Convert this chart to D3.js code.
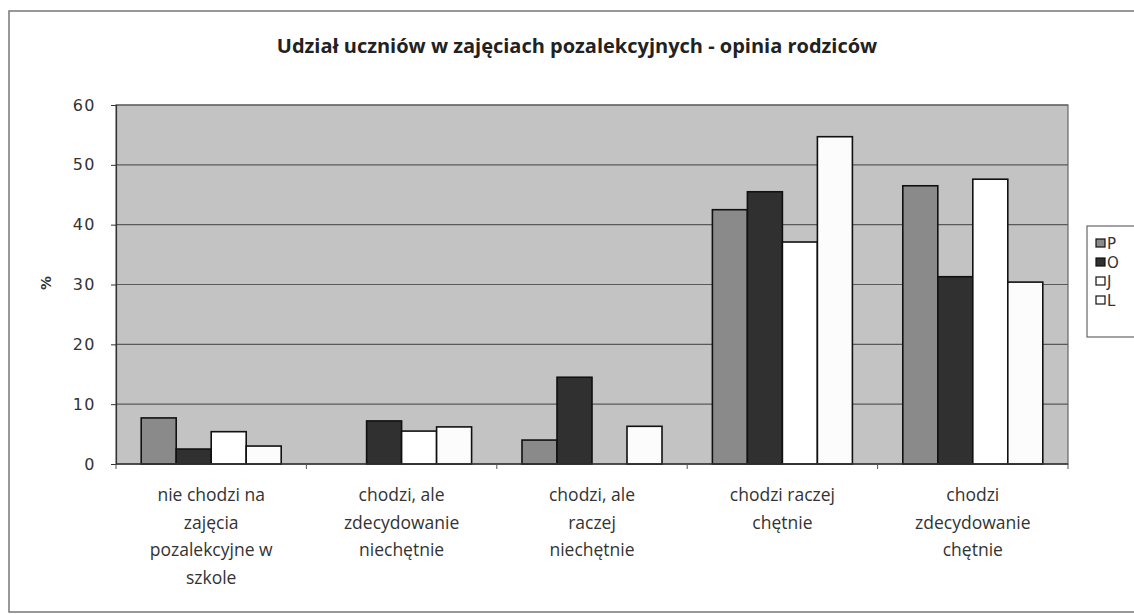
<!DOCTYPE html>
<html>
<head>
<meta charset="utf-8">
<script src="https://cdn.jsdelivr.net/npm/d3@7"></script>
<style>
  body { margin: 0; background: #fff; }
  svg { display: block; }
</style>
</head>
<body>
<div id="chart"></div>
<script>
// dane
const categories = [
    ["nie chodzi na", "zajęcia", "pozalekcyjne w", "szkole"],
    ["chodzi, ale", "zdecydowanie", "niechętnie"],
    ["chodzi, ale", "raczej", "niechętnie"],
    ["chodzi raczej", "chętnie"],
    ["chodzi", "zdecydowanie", "chętnie"]
];
const seriesNames = ["P", "O", "J", "L"];
const valuesP = [7.7, 0, 4.0, 42.5, 46.5];
const valuesO = [2.5, 7.2, 14.5, 45.5, 31.3];
const valuesJ = [5.4, 5.5, 0, 37.1, 47.6];
const valuesL = [3.0, 6.2, 6.3, 54.7, 30.4];
const yTicks = [0, 10, 20, 30, 40, 50, 60];
const title = "Udział uczniów w zajęciach pozalekcyjnych - opinia rodziców";

const seriesValues = [valuesP, valuesO, valuesJ, valuesL];
const colors = ["#8a8a8a", "#303030", "#ffffff", "#fcfcfc"];

const width = 1134, height = 614;
const margin = { left: 116, right: 1068, top: 105, bottom: 464 };

const svg = d3.select("#chart").append("svg")
    .attr("width", width)
    .attr("height", height);

// ramka wykresu
svg.append("rect")
    .attr("x", 9).attr("y", 11)
    .attr("width", 1140).attr("height", 601)
    .attr("fill", "#fff")
    .attr("stroke", "#777")
    .attr("stroke-width", 1.5);

// tytuł
svg.append("text")
    .attr("x", 577).attr("y", 53)
    .attr("text-anchor", "middle")
    .attr("font-family", "Open Sans, sans-serif")
    .attr("font-weight", "bold")
    .attr("font-size", 20)
    .attr("fill", "#222")
    .text(title);

const x0 = d3.scaleBand()
    .domain(d3.range(categories.length))
    .range([margin.left, margin.right])
    .paddingInner(0)
    .paddingOuter(0);

const x1 = d3.scaleBand()
    .domain(d3.range(seriesNames.length))
    .range([0, x0.bandwidth()])
    .paddingOuter(0.72)
    .paddingInner(0);

const y = d3.scaleLinear()
    .domain([0, 60])
    .range([margin.bottom, margin.top]);

// tło obszaru wykresu
svg.append("rect")
    .attr("x", margin.left).attr("y", margin.top)
    .attr("width", margin.right - margin.left)
    .attr("height", margin.bottom - margin.top)
    .attr("fill", "#c3c3c3")
    .attr("stroke", "#666")
    .attr("stroke-width", 1.2);

// linie siatki
svg.append("g").selectAll("line")
    .data(yTicks.filter(t => t > 0))
    .enter().append("line")
    .attr("x1", margin.left).attr("x2", margin.right)
    .attr("y1", d => y(d)).attr("y2", d => y(d))
    .attr("stroke", "#5a5a5a")
    .attr("stroke-width", 1.2);

// słupki
const groups = svg.append("g").selectAll("g")
    .data(categories.map((c, i) => i))
    .enter().append("g")
    .attr("transform", i => `translate(${x0(i)},0)`);

groups.selectAll("rect")
    .data(i => seriesValues.map((s, j) => ({ s: j, v: s[i] })))
    .enter().filter(d => d.v > 0).append("rect")
    .attr("x", d => x1(d.s))
    .attr("y", d => y(d.v))
    .attr("width", x1.bandwidth())
    .attr("height", d => y(0) - y(d.v))
    .attr("fill", d => colors[d.s])
    .attr("stroke", "#111")
    .attr("stroke-width", 1.6);

// oś Y
const yAxis = svg.append("g")
    .attr("transform", `translate(${margin.left},0)`)
    .call(d3.axisLeft(y).tickValues(yTicks).tickSize(5).tickPadding(15));
yAxis.select(".domain").attr("stroke", "#333").attr("stroke-width", 1.2);
yAxis.selectAll(".tick line").attr("stroke", "#333");
yAxis.selectAll("text")
    .attr("font-family", "DejaVu Sans, sans-serif")
    .attr("font-size", 16)
    .attr("letter-spacing", 1.5)
    .attr("fill", "#333");

// oś X
const xAxis = svg.append("g")
    .attr("transform", `translate(0,${margin.bottom})`);
xAxis.append("line")
    .attr("x1", margin.left).attr("x2", margin.right)
    .attr("stroke", "#333").attr("stroke-width", 1.4);
xAxis.selectAll(".tk")
    .data(d3.range(categories.length + 1))
    .enter().append("line")
    .attr("x1", i => i < categories.length ? x0(i) : margin.right)
    .attr("x2", i => i < categories.length ? x0(i) : margin.right)
    .attr("y1", 0).attr("y2", 5)
    .attr("stroke", "#555");

const labels = svg.append("g").selectAll("text")
    .data(categories)
    .enter().append("text")
    .attr("text-anchor", "middle")
    .attr("font-family", "Open Sans, sans-serif")
    .attr("font-size", 17.5)
    .attr("fill", "#333");
labels.each(function (lines, i) {
    const t = d3.select(this);
    lines.forEach((ln, k) => {
        t.append("tspan")
            .attr("x", x0(i) + x0.bandwidth() / 2)
            .attr("y", 501 + k * 27.5)
            .text(ln);
    });
});

// etykieta osi Y
svg.append("text")
    .attr("transform", "translate(51,283) rotate(-90)")
    .attr("text-anchor", "middle")
    .attr("font-family", "DejaVu Sans, sans-serif")
    .attr("font-size", 14)
    .attr("font-weight", "bold")
    .attr("fill", "#333")
    .text("%");

// legenda
const legend = svg.append("g");
legend.append("rect")
    .attr("x", 1087).attr("y", 226)
    .attr("width", 60).attr("height", 111)
    .attr("fill", "#fff")
    .attr("stroke", "#666")
    .attr("stroke-width", 1.2);
const items = legend.selectAll("g")
    .data(seriesNames)
    .enter().append("g")
    .attr("transform", (d, i) => `translate(1096,${243 + i * 19})`);
items.append("rect")
    .attr("x", 0).attr("y", -4)
    .attr("width", 9).attr("height", 8)
    .attr("fill", (d, i) => colors[i])
    .attr("stroke", "#111")
    .attr("stroke-width", 1.2);
items.append("text")
    .attr("x", 11).attr("y", 6)
    .attr("font-family", "DejaVu Sans, sans-serif")
    .attr("font-size", 15)
    .attr("fill", "#333")
    .text(d => d);
</script>
</body>
</html>
